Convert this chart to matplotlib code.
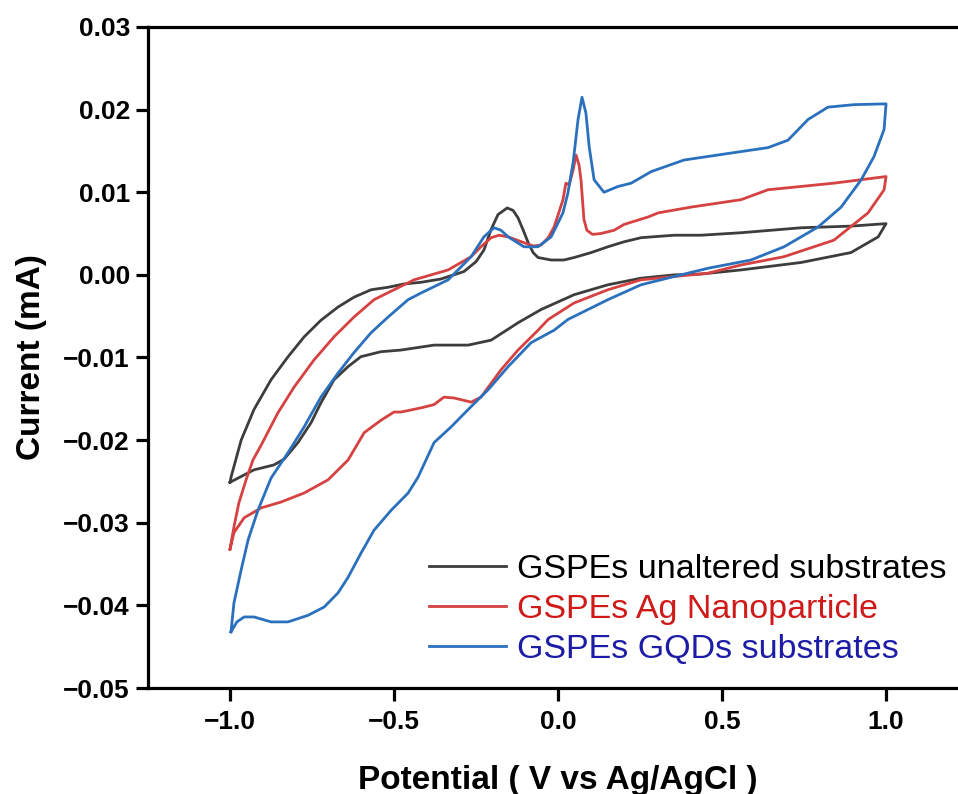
import numpy as np
from matplotlib import pyplot as plt
from matplotlib.ticker import FuncFormatter

plt.rcParams["font.family"] = ["Liberation Sans", "DejaVu Sans"]

# Cyclic voltammograms, potential in V vs Ag/AgCl, current in mA.
# Each loop: forward branch (-1 V -> +1 V) followed by return branch.
black_fwd_v = [-1.000, -0.997, -0.966, -0.927, -0.875, -0.823, -0.774, -0.723, -0.671, -0.622,
               -0.570, -0.518, -0.470, -0.418, -0.357, -0.287, -0.250, -0.226, -0.204, -0.183,
               -0.155, -0.137, -0.122, -0.107, -0.091, -0.076, -0.061, -0.021, 0.018, 0.049,
               0.101, 0.152, 0.201, 0.253, 0.354, 0.436, 0.558, 0.741, 0.893, 1.000]
black_fwd_i = [-0.0251, -0.0245, -0.0200, -0.0163, -0.0127, -0.0099, -0.0075, -0.0055, -0.0039, -0.0027,
               -0.0018, -0.0015, -0.0011, -0.0009, -0.0005, 0.0004, 0.0016, 0.0030, 0.0055, 0.0073,
               0.0081, 0.0078, 0.0069, 0.0055, 0.0039, 0.0027, 0.0021, 0.0018, 0.0018, 0.0021,
               0.0027, 0.0034, 0.0040, 0.0045, 0.0048, 0.0048, 0.0051, 0.0057, 0.0059, 0.0062]
black_rev_v = [1.000, 0.976, 0.893, 0.741, 0.558, 0.436, 0.354, 0.253, 0.152, 0.049,
               -0.052, -0.122, -0.204, -0.274, -0.378, -0.479, -0.540, -0.601, -0.640, -0.683,
               -0.723, -0.753, -0.793, -0.835, -0.866, -0.927, -1.000]
black_rev_i = [0.0062, 0.0046, 0.0027, 0.0015, 0.0006, 0.0001, 0.0000, -0.0004, -0.0012, -0.0024,
               -0.0042, -0.0058, -0.0079, -0.0085, -0.0085, -0.0091, -0.0093, -0.0099, -0.0111, -0.0127,
               -0.0155, -0.0179, -0.0203, -0.0223, -0.0230, -0.0236, -0.0251]

red_fwd_v = [-1.000, -0.988, -0.973, -0.951, -0.930, -0.905, -0.854, -0.805, -0.744, -0.683,
             -0.622, -0.561, -0.500, -0.439, -0.335, -0.265, -0.235, -0.204, -0.180, -0.152,
             -0.104, -0.076, -0.052, -0.030, -0.012, 0.003, 0.015, 0.024, 0.034, 0.046,
             0.055, 0.064, 0.070, 0.079, 0.088, 0.105, 0.130, 0.171, 0.201, 0.274,
             0.305, 0.405, 0.558, 0.640, 0.841, 1.000]
red_fwd_i = [-0.0332, -0.0305, -0.0276, -0.0248, -0.0224, -0.0206, -0.0167, -0.0136, -0.0103, -0.0075,
             -0.0051, -0.0030, -0.0018, -0.0006, 0.0006, 0.0022, 0.0034, 0.0045, 0.0048, 0.0046,
             0.0039, 0.0035, 0.0036, 0.0045, 0.0058, 0.0076, 0.0091, 0.0111, 0.0109, 0.0127,
             0.0145, 0.0133, 0.0115, 0.0067, 0.0054, 0.0049, 0.0050, 0.0054, 0.0061, 0.0070,
             0.0075, 0.0082, 0.0091, 0.0103, 0.0111, 0.0119]
red_rev_v = [1.000, 0.994, 0.945, 0.841, 0.689, 0.558, 0.457, 0.354, 0.253, 0.152,
             0.049, -0.030, -0.061, -0.122, -0.174, -0.235, -0.265, -0.317, -0.348, -0.378,
             -0.418, -0.479, -0.500, -0.540, -0.591, -0.640, -0.701, -0.774, -0.845, -0.905,
             -0.957, -0.988, -1.000]
red_rev_i = [0.0119, 0.0103, 0.0075, 0.0042, 0.0022, 0.0012, 0.0002, -0.0002, -0.0006, -0.0018,
             -0.0034, -0.0054, -0.0067, -0.0091, -0.0115, -0.0148, -0.0154, -0.0149, -0.0148, -0.0157,
             -0.0161, -0.0166, -0.0166, -0.0176, -0.0191, -0.0224, -0.0248, -0.0264, -0.0275, -0.0282,
             -0.0294, -0.0312, -0.0332]

blue_fwd_v = [-0.997, -0.988, -0.966, -0.945, -0.915, -0.875, -0.823, -0.774, -0.723, -0.671,
              -0.622, -0.570, -0.518, -0.457, -0.418, -0.335, -0.265, -0.226, -0.195, -0.174,
              -0.152, -0.104, -0.061, -0.021, 0.015, 0.030, 0.046, 0.061, 0.073, 0.085,
              0.095, 0.110, 0.140, 0.183, 0.223, 0.284, 0.384, 0.537, 0.640, 0.701,
              0.762, 0.823, 0.902, 1.000]
blue_fwd_i = [-0.0432, -0.0397, -0.0357, -0.0321, -0.0285, -0.0246, -0.0215, -0.0184, -0.0148, -0.0119,
              -0.0094, -0.0070, -0.0051, -0.0030, -0.0022, -0.0006, 0.0022, 0.0046, 0.0057, 0.0054,
              0.0046, 0.0034, 0.0034, 0.0046, 0.0075, 0.0099, 0.0136, 0.0188, 0.0215, 0.0196,
              0.0155, 0.0115, 0.0100, 0.0107, 0.0111, 0.0125, 0.0139, 0.0148, 0.0154, 0.0163,
              0.0188, 0.0203, 0.0206, 0.0207]
blue_rev_v = [1.000, 0.994, 0.963, 0.924, 0.863, 0.793, 0.689, 0.588, 0.457, 0.354,
              0.253, 0.152, 0.030, -0.012, -0.082, -0.152, -0.213, -0.274, -0.326, -0.378,
              -0.427, -0.457, -0.509, -0.561, -0.601, -0.640, -0.671, -0.713, -0.762, -0.823,
              -0.875, -0.927, -0.957, -0.979, -0.997]
blue_rev_i = [0.0207, 0.0176, 0.0143, 0.0115, 0.0082, 0.0058, 0.0034, 0.0018, 0.0008, -0.0002,
              -0.0012, -0.0030, -0.0054, -0.0067, -0.0082, -0.0111, -0.0139, -0.0163, -0.0184, -0.0203,
              -0.0245, -0.0264, -0.0285, -0.0309, -0.0337, -0.0366, -0.0385, -0.0402, -0.0412, -0.0420,
              -0.0420, -0.0414, -0.0414, -0.0420, -0.0432]

labels = ["GSPEs unaltered substrates", "GSPEs Ag Nanoparticle", "GSPEs GQDs substrates"]
line_colors = ["#3d3d3d", "#d64141", "#2b70bd"]
text_colors = ["#000000", "#d01a1a", "#1c1ca6"]

curves = [
    (black_fwd_v + black_rev_v, black_fwd_i + black_rev_i),
    (red_fwd_v + red_rev_v, red_fwd_i + red_rev_i),
    (blue_fwd_v + blue_rev_v, blue_fwd_i + blue_rev_i),
]

fig = plt.figure(figsize=(9.58, 7.94), dpi=100)
ax = fig.add_axes([0.1545, 0.1335, 0.856, 0.8325])

for (v, i), c, lab in zip(curves, line_colors, labels):
    ax.plot(np.array(v), np.array(i), color=c, lw=2.0, label=lab, solid_joinstyle="round")

ax.set_xlim(-1.25, 1.25)
ax.set_ylim(-0.05, 0.03)
ax.set_xticks([-1.0, -0.5, 0.0, 0.5, 1.0])
ax.set_yticks(np.arange(-0.05, 0.031, 0.01))
ax.xaxis.set_major_formatter(FuncFormatter(lambda v, p: f"{v:.1f}".replace("-", "\u2212")))
ax.yaxis.set_major_formatter(FuncFormatter(lambda v, p: f"{v:.2f}".replace("-", "\u2212")
                                           if abs(v) > 1e-9 else "0.00"))

for s in ax.spines.values():
    s.set_linewidth(2.3)
ax.tick_params(direction="out", length=9, width=2.3, labelsize=19, pad=4)
ax.tick_params(axis="x", pad=7)
for t in ax.get_xticklabels() + ax.get_yticklabels():
    t.set_fontweight("bold")

ax.set_xlabel("Potential ( V vs Ag/AgCl )", fontsize=24, fontweight="bold", labelpad=22)
ax.set_ylabel("Current (mA)", fontsize=24, fontweight="bold", labelpad=12)

leg = ax.legend(loc="upper left", bbox_to_anchor=(0.343, 0.203), frameon=False,
                fontsize=24.5, handlelength=2.25, handletextpad=0.33, labelspacing=0.27,
                borderpad=0, borderaxespad=0)
for txt, c in zip(leg.get_texts(), text_colors):
    txt.set_color(c)

fig.savefig("out.png", dpi=100)
